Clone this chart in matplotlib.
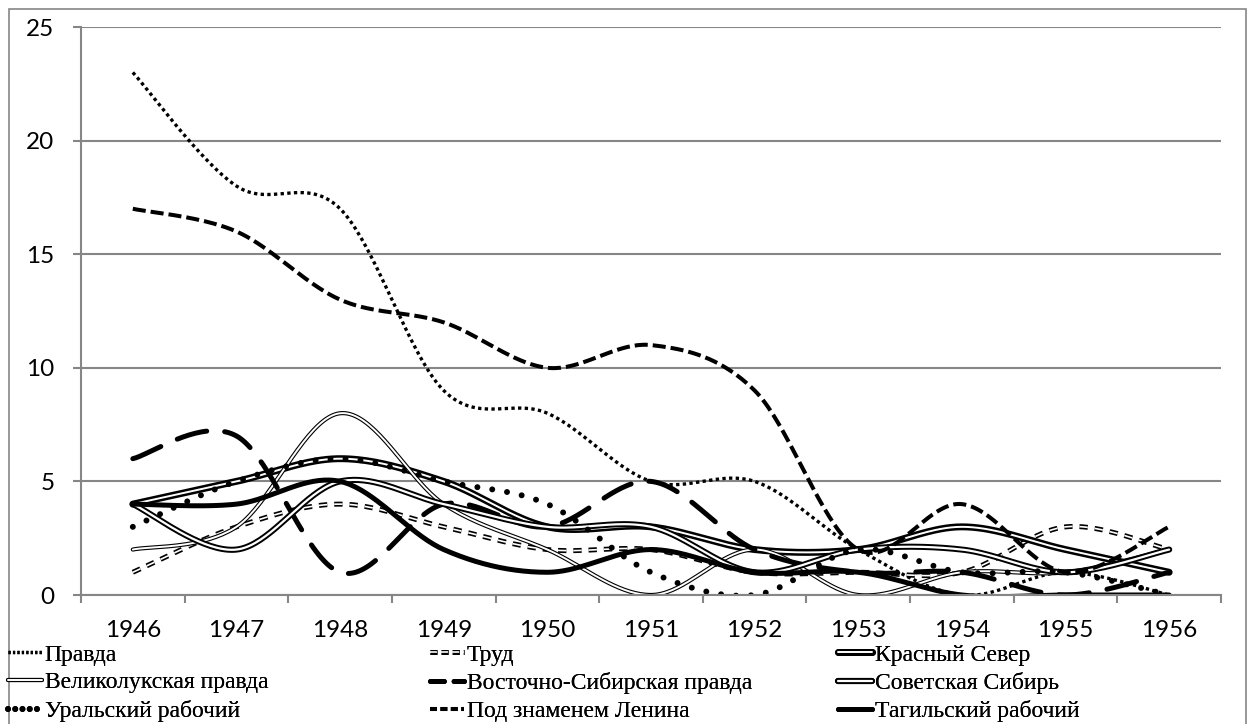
import numpy as np
import matplotlib
matplotlib.use("Agg")
import matplotlib.pyplot as plt
from matplotlib.patches import Rectangle
from matplotlib.lines import Line2D

#data
years = ['1946', '1947', '1948', '1949', '1950', '1951', '1952', '1953', '1954', '1955', '1956']
pravda = [23, 18, 17, 9, 8, 5, 5, 2, 0, 1, 0]
trud = [1, 3, 4, 3, 2, 2, 1, 1, 1, 3, 2]
krasny_sever = [4, 5, 6, 5, 3, 3, 2, 2, 3, 2, 1]
velikie_luki = [2, 3, 8, 4, 2, 0, 2, 0, 1, 1, 2]
vost_sib = [6, 7, 1, 4, 3, 5, 2, 1, 1, 0, 1]
sov_sibir = [4, 2, 5, 4, 3, 3, 1, 2, 2, 1, 2]
ural = [3, 5, 6, 5, 4, 1, 0, 2, 1, 1, 0]
pod_znamenem = [17, 16, 13, 12, 10, 11, 9, 2, 4, 1, 3]
tagil = [4, 4, 5, 2, 1, 2, 1, 1, 0, 0, 0]

labels = ['Правда', 'Труд', 'Красный Север',
          'Великолукская правда', 'Восточно-Сибирская правда', 'Советская Сибирь',
          'Уральский рабочий', 'Под знаменем Ленина', 'Тагильский рабочий']

plt.rcParams['lines.scale_dashes'] = False


def smooth(vals, n=40):
    # excel style smoothed line (bezier through every point)
    y = np.array(vals, float)
    x = np.arange(len(y), dtype=float)
    xs, ys = [], []
    t = np.linspace(0, 1, n)
    for i in range(len(y) - 1):
        a = max(i - 1, 0)
        b = min(i + 2, len(y) - 1)
        c1x = x[i] + (x[i + 1] - x[a]) / 6
        c1y = y[i] + (y[i + 1] - y[a]) / 6
        c2x = x[i + 1] - (x[b] - x[i]) / 6
        c2y = y[i + 1] - (y[b] - y[i]) / 6
        k0 = (1 - t) ** 3
        k1 = 3 * (1 - t) ** 2 * t
        k2 = 3 * (1 - t) * t ** 2
        k3 = t ** 3
        xs.append(k0 * x[i] + k1 * c1x + k2 * c2x + k3 * x[i + 1])
        ys.append(k0 * y[i] + k1 * c1y + k2 * c2y + k3 * y[i + 1])
    return np.concatenate(xs), np.concatenate(ys)


fig = plt.figure(figsize=(12.55, 7.24), dpi=100)
ax = fig.add_axes([81 / 1255, 1 - 595 / 724, 1140 / 1255, 568 / 724])

# style of every series: layers of (color, width, dashes, capstyle, legend dashes)
styles = {
    'Правда': [('black', 2.4, (2.4, 2.4), 'butt', (1.6, 1.6))],
    'Труд': [('black', 3.6, (6, 5), 'butt', (5, 3)), ('white', 1.2, (6, 5), 'butt', (5, 3))],
    'Красный Север': [('black', 5.0, None, 'round', None), ('white', 1.4, None, 'round', None)],
    'Великолукская правда': [('black', 3.0, None, 'round', None), ('white', 1.4, None, 'round', None)],
    'Восточно-Сибирская правда': [('black', 3.6, (22, 13), 'round', (10, 7))],
    'Советская Сибирь': [('black', 4.4, None, 'round', None), ('white', 1.6, None, 'round', None)],
    'Уральский рабочий': [('black', 4.3, (0.01, 10.8), 'round', (0.01, 5.2))],
    'Под знаменем Ленина': [('black', 2.9, (9.4, 3.6), 'butt', (5, 2.5))],
    'Тагильский рабочий': [('black', 3.6, None, 'round', None)],
}

series = [pravda, trud, krasny_sever, velikie_luki, vost_sib, sov_sibir, ural, pod_znamenem, tagil]
handles = []
for name, vals in zip(labels, series):
    xs, ys = smooth(vals)
    layers = []
    for col, lw, dash, cap, ldash in styles[name]:
        ln, = ax.plot(xs, ys, color=col, lw=lw, solid_capstyle=cap, dash_capstyle=cap)
        if dash is not None:
            ln.set_dashes(dash)
        h = Line2D([], [], color=col, lw=lw, solid_capstyle=cap, dash_capstyle=cap)
        if ldash is not None:
            h.set_dashes(ldash)
        layers.append(h)
    handles.append(tuple(layers))

ax.set_xlim(-0.5, 10.5)
ax.set_ylim(0, 25)
ax.set_yticks(range(0, 26, 5))
ax.set_xticks(range(len(years)))
ax.set_xticklabels(years)
ax.set_xticks(np.arange(-0.5, 11, 1), minor=True)
ax.tick_params(axis='x', which='major', length=0, pad=18, labelsize=17.5)
ax.tick_params(axis='x', which='minor', length=6, width=1.5, color='#868686', direction='out')
ax.tick_params(axis='y', length=6, width=1.5, color='#868686', pad=13, labelsize=17.5)
for lab in ax.get_xticklabels() + ax.get_yticklabels():
    lab.set_family('Lato')
ax.grid(axis='y', color='#868686', lw=1.5)
ax.set_axisbelow(True)
for s in ['top', 'right']:
    ax.spines[s].set_visible(False)
for s in ['left', 'bottom']:
    ax.spines[s].set_color('#868686')
    ax.spines[s].set_linewidth(1.5)

# legend in three columns below the chart
col_x = [8 / 1255, 430 / 1255, 838 / 1255]
for c in range(3):
    idx = [c, c + 3, c + 6]
    leg = fig.legend([handles[i] for i in idx], [labels[i] for i in idx],
                     loc='upper left', bbox_to_anchor=(col_x[c], 1 - 644 / 724),
                     frameon=False, handlelength=1.45, handletextpad=0.1,
                     borderaxespad=0, borderpad=0, labelspacing=0.27,
                     prop={'family': 'Liberation Serif', 'size': 17})
    fig.add_artist(leg)

fig.add_artist(Rectangle((9 / 1255, -0.05), 1237 / 1255, 1.05 - 9 / 724, transform=fig.transFigure,
                         fill=False, ec='#868686', lw=1.2))

fig.savefig('out.png', dpi=100)
